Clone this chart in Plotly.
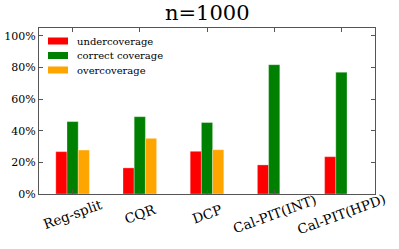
import plotly.graph_objects as go

categories = ["Reg-split", "CQR", "DCP", "Cal-PIT(INT)", "Cal-PIT(HPD)"]
under = [26.8, 16.5, 27.0, 18.4, 23.6]
correct = [45.8, 48.9, 45.2, 81.8, 77.0]
over = [27.8, 35.2, 28.0, None, None]
series_names = ["undercoverage", "correct coverage", "overcoverage"]
series_colors = ["#ff0000", "#008000", "#ffa500"]
y_ticks = [0, 20, 40, 60, 80, 100]
y_ticklabels = ["0%", "20%", "40%", "60%", "80%", "100%"]

font_family = "DejaVu Serif"
xs = list(range(len(categories)))

W, H = 399, 249
ML, MR, MT, MB = 39, 24, 28, 55
PW, PH = W - ML - MR, H - MT - MB

fig = go.Figure()
for name, vals, col in zip(series_names, [under, correct, over], series_colors):
    fig.add_trace(go.Bar(x=xs, y=vals, name=name, marker_color=col, showlegend=False,
                         marker_line=dict(color="rgba(255,255,255,0.6)", width=0.5)))

# rotated category labels
for i, c in enumerate(categories):
    fig.add_annotation(x=i, y=0, xref="x", yref="paper", text=c, showarrow=False,
                       textangle=-20, yshift=-20, xanchor="center", yanchor="middle",
                       font=dict(family=font_family, size=13.5, color="black"))

# legend (matplotlib-style wide swatches)
leg_rows = [41, 55.5, 70]
for name, col, ypx in zip(series_names, series_colors, leg_rows):
    yc = (H - MB - ypx) / PH
    fig.add_shape(type="rect", xref="paper", yref="paper",
                  x0=(48 - ML) / PW, x1=(68 - ML) / PW,
                  y0=yc - 3.5 / PH, y1=yc + 3.5 / PH,
                  fillcolor=col, line=dict(width=0))
    fig.add_annotation(x=(75 - ML) / PW, y=yc, xref="paper", yref="paper", text=name,
                       showarrow=False, xanchor="left", yanchor="middle",
                       font=dict(family=font_family, size=10, color="black"))

fig.add_annotation(x=0.5, y=1, xref="paper", yref="paper", text="n=1000", showarrow=False,
                   xanchor="center", yanchor="bottom", yshift=1,
                   font=dict(family=font_family, size=21, color="black"))

fig.update_layout(
    width=W, height=H,
    margin=dict(l=ML, r=MR, t=MT, b=MB),
    paper_bgcolor="white", plot_bgcolor="white",
    barmode="group", bargap=0.5, bargroupgap=0,
    showlegend=False,
    font=dict(family=font_family, color="black"),
)
fig.update_xaxes(range=[-0.5, 4.5], tickvals=xs, ticktext=[""] * len(xs), ticks="inside", ticklen=4,
                 showline=True, linecolor="#555", linewidth=1, mirror="ticks", tickcolor="#555",
                 showgrid=False, zeroline=False, automargin=False)
fig.update_yaxes(range=[0, 105], tickvals=y_ticks, ticktext=y_ticklabels, ticks="inside", ticklen=4,
                 showline=True, linecolor="#555", linewidth=1, mirror="ticks", tickcolor="#555",
                 showgrid=False, zeroline=False, automargin=False,
                 tickfont=dict(family=font_family, size=11, color="black"))

fig.write_html("out.html", config={"displayModeBar": False},
               post_script="document.body.style.margin='0px';")
